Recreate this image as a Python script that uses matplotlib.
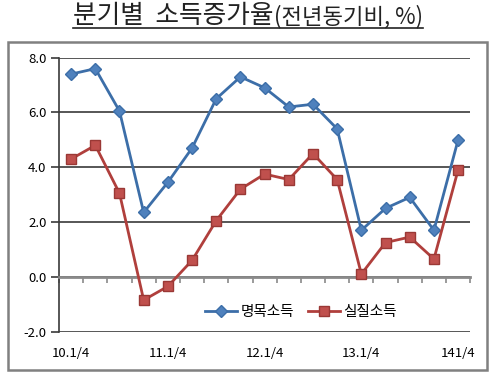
import matplotlib.pyplot as plt
from matplotlib.patches import Rectangle
from matplotlib.lines import Line2D

plt.rcParams['font.family'] = ['Noto Sans CJK KR', 'DejaVu Sans']

quarters = ["10.1/4", "10.2/4", "10.3/4", "10.4/4",
            "11.1/4", "11.2/4", "11.3/4", "11.4/4",
            "12.1/4", "12.2/4", "12.3/4", "12.4/4",
            "13.1/4", "13.2/4", "13.3/4", "13.4/4",
            "141/4"]
shown_labels = ["10.1/4", "11.1/4", "12.1/4", "13.1/4", "141/4"]
nominal = [7.4, 7.6, 6.05, 2.35, 3.45, 4.7, 6.5, 7.3, 6.9, 6.2, 6.3, 5.4,
           1.7, 2.5, 2.9, 1.7, 5.0]
real = [4.3, 4.8, 3.05, -0.85, -0.35, 0.6, 2.05, 3.2, 3.75, 3.55, 4.5, 3.55,
        0.1, 1.25, 1.45, 0.65, 3.9]
series_names = ["명목소득", "실질소득"]

fig = plt.figure(figsize=(4.96, 3.91), dpi=100)
ax = fig.add_axes([0.119, 0.152, 0.829, 0.7005])

x = list(range(len(quarters)))
ax.plot(x, nominal, color='#3C6EA8', lw=2.0, marker='D', ms=6,
        mfc='#4F81BD', mec='#3C6EA8', label=series_names[0], zorder=4)
ax.plot(x, real, color='#B03F3C', lw=2.0, marker='s', ms=7,
        mfc='#C0504D', mec='#9A3835', label=series_names[1], zorder=4)

ax.set_xlim(-0.5, len(quarters) - 0.5)
ax.set_ylim(-2, 8)
ax.set_yticks([-2, 0, 2, 4, 6, 8])
ax.set_yticklabels([f"{v:.1f}" for v in [-2, 0, 2, 4, 6, 8]], fontsize=9.5)
ax.yaxis.grid(True, color='#3a3a3a', lw=1.2)
ax.set_axisbelow(True)
ax.tick_params(axis='y', length=6, width=1.2, color='#3a3a3a', pad=3)

# category axis crossing at zero
ax.spines['bottom'].set_position(('data', 0))
ax.spines['bottom'].set_color('#8a8a8a')
ax.spines['bottom'].set_linewidth(2)
ax.spines['bottom'].set_zorder(3)
ax.set_xticks([i - 0.5 for i in range(len(quarters) + 1)])
ax.tick_params(axis='x', direction='out', length=4, width=1.2,
               color='#8a8a8a', labelbottom=False)
ax.spines['left'].set_color('#3a3a3a')
ax.spines['left'].set_linewidth(1.2)
ax.spines['top'].set_visible(False)
ax.spines['right'].set_visible(False)

# labels below the plot area
sec = ax.secondary_xaxis('bottom')
pos = [quarters.index(q) for q in shown_labels]
sec.set_xticks(pos)
sec.set_xticklabels(shown_labels, fontsize=9.5)
sec.tick_params(length=0, pad=11)
sec.spines['bottom'].set_visible(False)

ax.legend(loc='center', ncol=2, frameon=False, fontsize=10.5, handlelength=2.2,
          columnspacing=1.0, handletextpad=0.2)
leg = ax.get_legend()
leg.set_bbox_to_anchor((0.607, 1 - 312 / 391), transform=fig.transFigure)

# outer chart frame
fig.patches.append(Rectangle((8 / 496, 1 - 370 / 391), 479 / 496, 328 / 391,
                             transform=fig.transFigure, fill=False,
                             edgecolor='#808080', lw=1.8))

# title in two sizes, underlined
r = fig.canvas.get_renderer()
t1 = fig.text(0, 1 - 16 / 391, "분기별  소득증가율", fontsize=18.5, va='center',
              ha='left', color='#222222')
t2 = fig.text(0, 1 - 17 / 391, "(전년동기비, %)", fontsize=16, va='center',
              ha='left', color='#222222')
w1 = t1.get_window_extent(r).width / 496
w2 = t2.get_window_extent(r).width / 496
start = 0.5 - (w1 + w2) / 2
t1.set_x(start)
t2.set_x(start + w1)
fig.add_artist(Line2D([start, start + w1 + w2], [1 - 28 / 391] * 2,
                      transform=fig.transFigure, color='#222222', lw=1.2))

fig.savefig("out.png", dpi=100)
